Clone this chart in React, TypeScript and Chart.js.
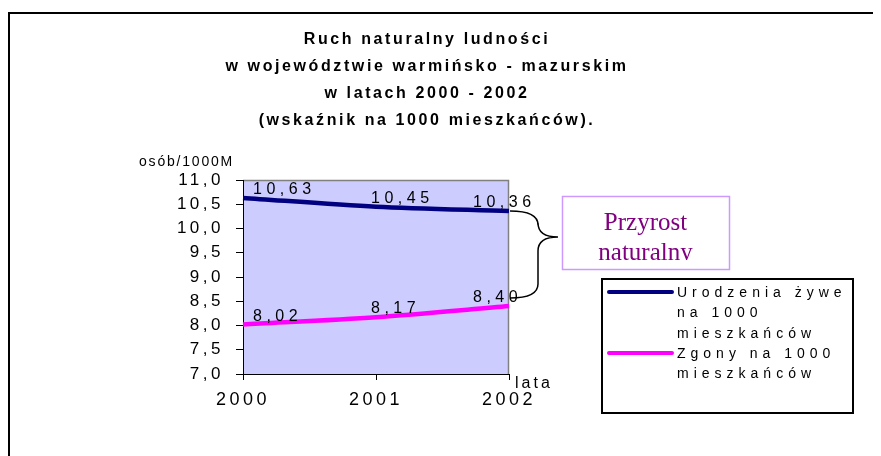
import React, { useEffect, useRef } from "react";
import { Chart, registerables } from "chart.js";
Chart.register(...registerables);

const years = ["2000", "2001", "2002"];
const birthsPer1000 = [10.63, 10.45, 10.36];
const deathsPer1000 = [8.02, 8.17, 8.4];
const seriesNames = ["Urodzenia żywe na 1000 mieszkańców", "Zgony na 1000 mieszkańców"];
const legendLines = [
  ["Urodzenia żywe", "na 1000", "mieszkańców"],
  ["Zgony na 1000", "mieszkańców"],
];
const titleLines = [
  "Ruch naturalny ludności",
  "w województwie warmińsko - mazurskim",
  "w latach 2000 - 2002",
  "(wskaźnik na 1000 mieszkańców).",
];
const yAxisTitle = "osób/1000M";
const xAxisTitle = "lata";
const calloutLines = ["Przyrost", "naturalny"];
const yTicksMin = 7;
const yTicksMax = 11;
const yTicksStep = 0.5;

const SANS = '"Liberation Sans", Arial, sans-serif';
const SERIF = '"Liberation Serif", "Times New Roman", serif';
const seriesColors = ["#000080", "#FF00FF"];
const labelDx = [10, -5, -36];

const fmt = (v: number, d: number) => v.toFixed(d).replace(".", ",");

const decor = {
  id: "decor",
  beforeUpdate(chart: any) {
    chart.ctx.letterSpacing = "3.5px";
  },
  beforeDraw(chart: any) {
    const { ctx, chartArea: a } = chart;
    ctx.letterSpacing = "3.5px";
    ctx.save();
    // outer frame (top & left)
    ctx.strokeStyle = "#000";
    ctx.lineWidth = 2;
    ctx.beginPath();
    ctx.moveTo(1, chart.height);
    ctx.lineTo(1, 5);
    ctx.lineTo(chart.width, 5);
    ctx.stroke();
    // plot area background
    ctx.fillStyle = "#CCCCFF";
    ctx.fillRect(a.left, a.top, a.right - a.left, a.bottom - a.top);
    ctx.strokeStyle = "#808080";
    ctx.lineWidth = 1.5;
    ctx.beginPath();
    ctx.moveTo(a.left, a.top + 0.5);
    ctx.lineTo(a.right - 0.5, a.top + 0.5);
    ctx.lineTo(a.right - 0.5, a.bottom);
    ctx.stroke();
    // title
    ctx.fillStyle = "#000";
    ctx.font = "bold 16px " + SANS;
    ctx.letterSpacing = "2.6px";
    ctx.textAlign = "center";
    ctx.textBaseline = "middle";
    titleLines.forEach((t, i) => ctx.fillText(t, 419, 32 + i * 26.7));
    // axis titles
    ctx.textAlign = "left";
    ctx.textBaseline = "alphabetic";
    ctx.font = "14px " + SANS;
    ctx.letterSpacing = "1.8px";
    ctx.fillText(yAxisTitle, 131, 158);
    ctx.font = "16px " + SANS;
    ctx.letterSpacing = "3px";
    ctx.fillText(xAxisTitle, a.right + 6, a.bottom + 14);
    ctx.restore();
  },
  afterDraw(chart: any) {
    const { ctx } = chart;
    ctx.save();
    // data labels
    ctx.fillStyle = "#000";
    ctx.font = "16px " + SANS;
    ctx.letterSpacing = "4.5px";
    ctx.textAlign = "left";
    ctx.textBaseline = "alphabetic";
    chart.data.datasets.forEach((ds: any, i: number) => {
      const meta = chart.getDatasetMeta(i);
      meta.data.forEach((pt: any, j: number) => {
        ctx.fillText(fmt(ds.data[j], 2), pt.x + labelDx[j], pt.y - 4);
      });
    });
    // callout box
    const bx = 554, by = 188, bw = 167, bh = 73;
    ctx.fillStyle = "#fff";
    ctx.fillRect(bx, by, bw, bh);
    ctx.strokeStyle = "#CC99FF";
    ctx.lineWidth = 1.5;
    ctx.strokeRect(bx + 0.5, by + 0.5, bw, bh);
    ctx.fillStyle = "#800080";
    ctx.font = "25px " + SERIF;
    ctx.letterSpacing = "0px";
    ctx.textAlign = "center";
    ctx.fillText(calloutLines[0], bx + bw / 2, by + 34);
    ctx.save();
    ctx.beginPath();
    ctx.rect(bx, by, bw, 64);
    ctx.clip();
    ctx.fillText(calloutLines[1], bx + bw / 2, by + 64);
    ctx.restore();
    // brace
    const p1 = chart.getDatasetMeta(0).data[2];
    const p2 = chart.getDatasetMeta(1).data[2];
    const x0 = p1.x + 1;
    const yTop = p1.y;
    const yBot = p2.y - 8;
    const xv = x0 + 28;
    const xApex = bx - 4;
    const yMid = by + 41;
    const r = 14;
    ctx.strokeStyle = "#000";
    ctx.lineWidth = 1.5;
    ctx.beginPath();
    ctx.moveTo(x0, yTop);
    ctx.quadraticCurveTo(xv, yTop, xv, yTop + r);
    ctx.lineTo(xv, yMid - r);
    ctx.quadraticCurveTo(xv, yMid, xApex, yMid);
    ctx.quadraticCurveTo(xv, yMid, xv, yMid + r);
    ctx.lineTo(xv, yBot - r);
    ctx.quadraticCurveTo(xv, yBot, x0, yBot);
    ctx.stroke();
    // legend
    const lx = 594, ly = 271, lw = 251, lh = 134;
    ctx.fillStyle = "#fff";
    ctx.fillRect(lx, ly, lw, lh);
    ctx.strokeStyle = "#000";
    ctx.lineWidth = 2;
    ctx.strokeRect(lx, ly, lw, lh);
    ctx.font = "14px " + SANS;
    ctx.letterSpacing = "5px";
    ctx.textAlign = "left";
    let line = 0;
    legendLines.forEach((lines, i) => {
      const base = ly + 18 + line * 20.3;
      ctx.strokeStyle = seriesColors[i];
      ctx.lineWidth = 4;
      ctx.lineCap = "round";
      ctx.beginPath();
      ctx.moveTo(lx + 7, base - 5);
      ctx.lineTo(lx + 70, base - 5);
      ctx.stroke();
      ctx.fillStyle = "#000";
      lines.forEach((t, k) => ctx.fillText(t, lx + 75, base + k * 20.3));
      line += lines.length;
    });
    ctx.restore();
  },
};

export default function App() {
  const ref = useRef<HTMLCanvasElement>(null);
  useEffect(() => {
    const chart = new Chart(ref.current as HTMLCanvasElement, {
      type: "line",
      data: {
        labels: years,
        datasets: [
          { label: seriesNames[0], data: birthsPer1000, borderColor: seriesColors[0], borderWidth: 4.5, tension: 0.3, pointRadius: 0, fill: false },
          { label: seriesNames[1], data: deathsPer1000, borderColor: seriesColors[1], borderWidth: 4.5, tension: 0.3, pointRadius: 0, fill: false },
        ],
      },
      options: {
        responsive: false,
        animation: false,
        devicePixelRatio: 1,
        layout: { padding: { left: 135, right: 372, top: 172, bottom: 42 } },
        plugins: { legend: { display: false }, title: { display: false }, tooltip: { enabled: false } },
        scales: {
          x: {
            type: "category",
            offset: false,
            grid: { display: true, drawOnChartArea: false, drawTicks: true, tickLength: 6, color: "#000" },
            border: { display: true, color: "#000", width: 1 },
            ticks: { font: { family: SANS, size: 18 }, color: "#000", padding: 9, maxRotation: 0 },
            afterFit: (s: any) => { s.height = 40; },
          },
          y: {
            min: yTicksMin,
            max: yTicksMax,
            grid: { display: true, drawOnChartArea: false, drawTicks: true, tickLength: 7, color: "#000" },
            border: { display: true, color: "#000", width: 1 },
            ticks: { stepSize: yTicksStep, font: { family: SANS, size: 17 }, color: "#000", padding: 12, callback: (v: any) => fmt(Number(v), 1) },
            afterFit: (s: any) => { s.width = 100; },
          },
        },
      } as any,
      plugins: [decor],
    });
    return () => chart.destroy();
  }, []);
  return (
    <div style={{ width: 873, height: 448 }}>
      <canvas ref={ref} width={873} height={448} style={{ display: "block" }} />
    </div>
  );
}
